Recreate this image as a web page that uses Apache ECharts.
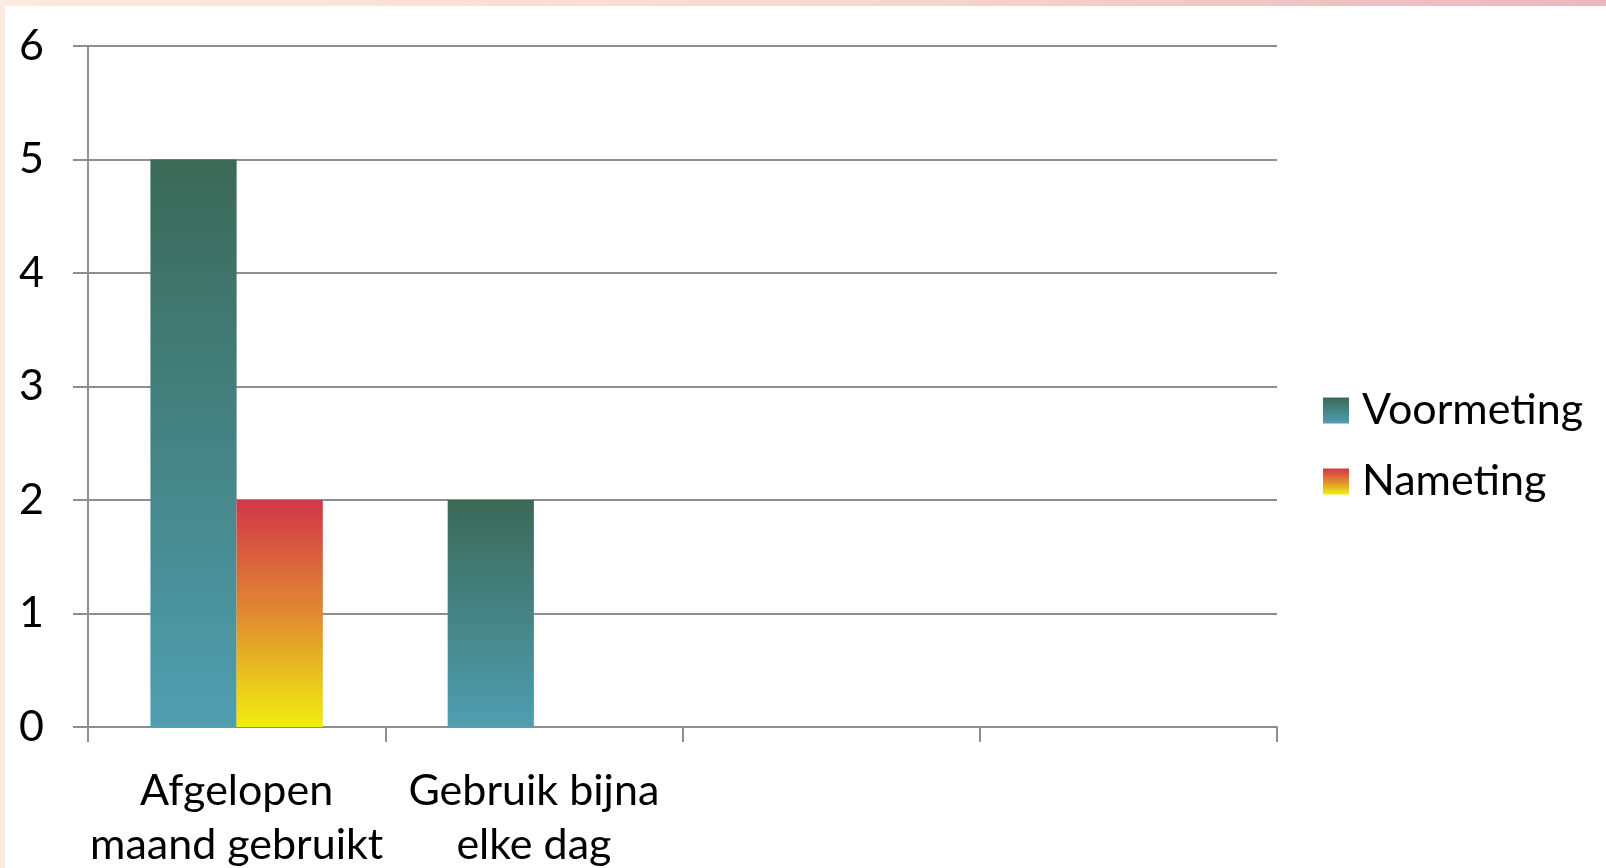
<!DOCTYPE html>
<html>
<head>
<meta charset="utf-8">
<script src="https://cdn.jsdelivr.net/npm/echarts@6/dist/echarts.min.js"></script>
<style>
html,body{margin:0;padding:0;width:1606px;height:868px;overflow:hidden;}
body{background:linear-gradient(90deg,#fbeadf 0%,#f7d9d2 50%,#ecb7bb 100%);}
#c{position:absolute;left:5px;top:6px;width:1601px;height:862px;background:#fff;}
</style>
</head>
<body>
<div id="c"></div>
<script>
const categories = ['Afgelopen\nmaand gebruikt', 'Gebruik bijna\nelke dag', '', ''];
const voormeting = [5, 2, 0, 0];
const nameting = [2, 0, 0, 0];
const yTicks = [0, 1, 2, 3, 4, 5, 6];

const font = 'Lato';
const gridColor = '#8e8e8e';

const chart = echarts.init(document.getElementById('c'));
chart.setOption({
  animation: false,
  backgroundColor: '#fff',
  grid: { left: 83, top: 40, width: 1189, height: 681, containLabel: false, outerBoundsMode: 'none' },
  legend: {
    orient: 'vertical',
    left: 1318, top: 383,
    padding: 0,
    itemWidth: 26, itemHeight: 26, itemGap: 28,
    icon: 'rect',
    textStyle: { fontFamily: font, fontSize: 43, color: '#000', padding: [0, 0, 0, 8] },
    data: ['Voormeting', 'Nameting']
  },
  xAxis: {
    type: 'category',
    data: categories,
    axisLine: { lineStyle: { color: gridColor, width: 2 } },
    axisTick: { show: true, length: 15, alignWithLabel: false, lineStyle: { color: gridColor, width: 2 } },
    axisLabel: { interval: 0, fontFamily: font, fontSize: 43, color: '#000', lineHeight: 54, margin: 37 }
  },
  yAxis: {
    type: 'value',
    min: yTicks[0], max: yTicks[yTicks.length - 1], interval: 1,
    axisLine: { show: true, lineStyle: { color: gridColor, width: 2 } },
    axisTick: { show: true, length: 15, lineStyle: { color: gridColor, width: 2 } },
    splitLine: { show: true, lineStyle: { color: gridColor, width: 2 } },
    axisLabel: { fontFamily: font, fontSize: 43, color: '#000', margin: 44 }
  },
  series: [
    {
      name: 'Voormeting', type: 'bar', data: voormeting,
      barGap: '0%', barCategoryGap: '42%',
      itemStyle: { color: new echarts.graphic.LinearGradient(0, 0, 0, 1, [
        { offset: 0, color: '#3b6957' }, { offset: 1, color: '#4f9eb1' }]) }
    },
    {
      name: 'Nameting', type: 'bar', data: nameting,
      barGap: '0%', barCategoryGap: '42%',
      itemStyle: { color: new echarts.graphic.LinearGradient(0, 0, 0, 1, [
        { offset: 0, color: '#d2364b' }, { offset: 0.5, color: '#e08a30' }, { offset: 1, color: '#f0ee10' }]) }
    }
  ]
});
</script>
</body>
</html>
